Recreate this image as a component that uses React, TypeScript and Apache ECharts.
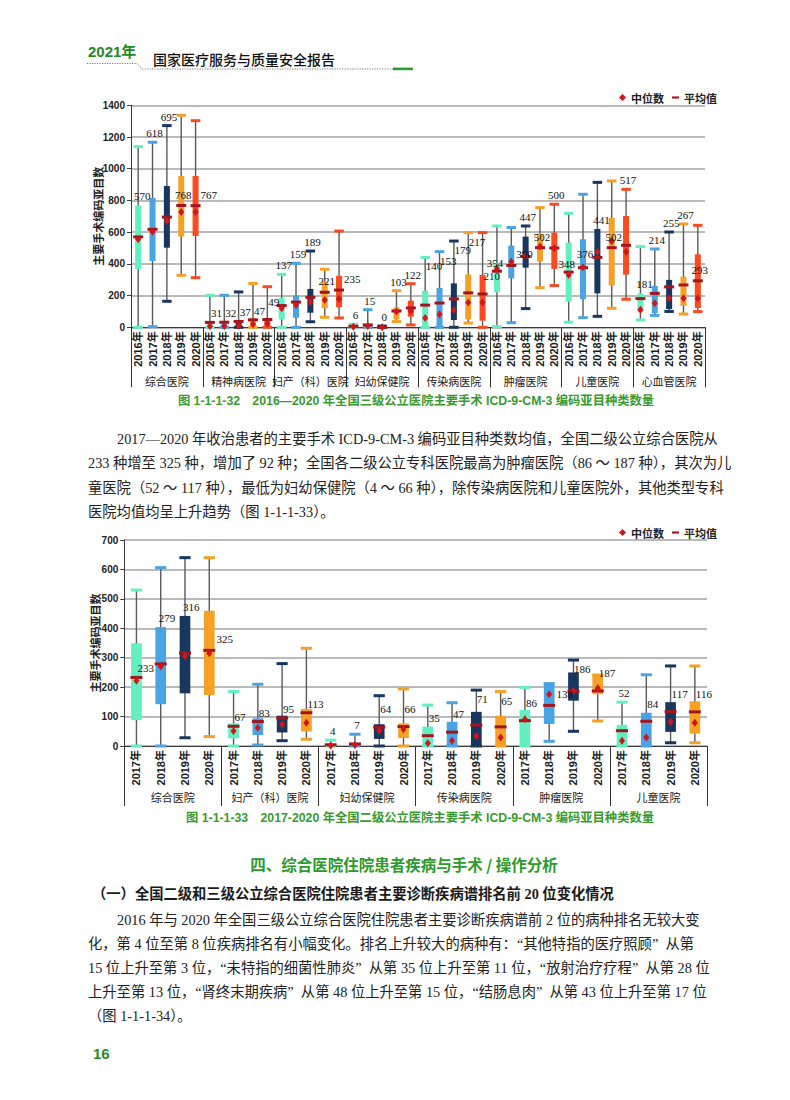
import React, { useEffect, useRef } from 'react';
import * as echarts from 'echarts';

// ---------- Top chart data (三级公立医院, 2016-2020) ----------
const topGroups = ['综合医院', '精神病医院', '妇产（科）医院', '妇幼保健院', '传染病医院', '肿瘤医院', '儿童医院', '心血管医院'];
const topYears = ['2016年', '2017年', '2018年', '2019年', '2020年'];
const topMin = [0, 4, 164, 328, 313, 0, 0, 0, 0, 0, 0, 0, 35, 63, 59, 0, 0, 0, 36, 15, 0, 0, 0, 27, 0, 4, 29, 118, 250, 263, 32, 61, 69, 120, 177, 46, 75, 100, 84, 99];
const topQ1 = [366, 418, 502, 572, 576, 0, 0, 0, 4, 6, 50, 60, 92, 120, 126, 0, 0, 0, 50, 67, 0, 0, 46, 50, 42, 221, 309, 376, 414, 368, 162, 177, 214, 263, 332, 95, 90, 115, 135, 122];
const topQ3 = [769, 816, 891, 954, 954, 40, 38, 42, 55, 58, 185, 200, 242, 288, 325, 10, 20, 5, 126, 168, 231, 248, 277, 334, 330, 404, 515, 572, 589, 597, 534, 555, 620, 690, 702, 214, 261, 299, 320, 460];
const topMax = [1139, 1167, 1272, 1337, 1303, 202, 202, 223, 277, 256, 334, 404, 481, 366, 607, 19, 111, 8, 231, 275, 441, 477, 544, 597, 597, 639, 629, 639, 755, 776, 719, 839, 914, 923, 870, 509, 494, 601, 652, 643];
const topMedian = [555, 603, 670, 727, 727, 6, 6, 10, 20, 22, 120, 140, 158, 172, 179, 3, 8, 0, 99, 103, 59, 82, 109, 156, 156, 370, 414, 452, 509, 499, 330, 378, 477, 542, 477, 110, 151, 183, 183, 183];
const topMean = [570, 618, 695, 768, 767, 31, 32, 37, 47, 49, 137, 159, 189, 221, 235, 6, 15, 0, 103, 122, 140, 153, 179, 217, 210, 354, 390, 447, 502, 500, 348, 376, 441, 502, 517, 181, 214, 255, 267, 293];
const topLabelPos = ['q', 'a', 'a', 'm', 'R', 'r', 'r', 'r', 'r', 'u', 'a', 'a', 'a', 'm', 'R', 'a', 'a', 'a', 'a', 'a', 'w', 'w', 'w', 'w', 'u', 'L', 'R', 'a', 'm', 'a', 'L', 'M', 'q', 'm', 'a', 'q', 'a', 'a', 'a', 'm'];

// ---------- Bottom chart data (二级公立医院, 2017-2020) ----------
const botGroups = ['综合医院', '妇产（科）医院', '妇幼保健院', '传染病医院', '肿瘤医院', '儿童医院'];
const botYears = ['2017年', '2018年', '2019年', '2020年'];
const botMin = [0, 0, 28, 32, 0, 3, 18, 23, 0, 0, 0, 0, 0, 0, 0, 0, 0, 16, 50, 85, 0, 0, 11, 11];
const botQ1 = [88, 142, 179, 173, 26, 37, 46, 49, 0, 0, 24, 27, 0, 0, 0, 0, 0, 75, 154, 176, 0, 0, 48, 42];
const botQ3 = [349, 404, 442, 460, 77, 94, 103, 126, 8, 10, 74, 77, 66, 82, 116, 103, 122, 208, 250, 238, 72, 113, 149, 152];
const botMax = [530, 606, 640, 640, 185, 210, 280, 332, 20, 40, 171, 194, 139, 147, 190, 185, 199, 212, 292, 241, 149, 242, 272, 272];
const botMedian = [222, 270, 306, 315, 51, 62, 74, 79, 2, 3, 52, 57, 9, 18, 34, 29, 91, 176, 187, 196, 18, 29, 82, 79];
const botMean = [233, 279, 316, 325, 67, 83, 95, 113, 4, 7, 64, 66, 35, 47, 71, 65, 86, 138, 186, 187, 52, 84, 117, 116];
const botLabelPos = ['r', 'q', 'q', 'R', 'r', 'r', 'r', 'r', 'a', 'a', 'u', 'u', 'u', 'u', 'w', 'w', 'u', 'R', 'w', 'u', 'a', 'q', 'u', 'u'];

// ---------- Page texts ----------
const headerYear = '2021年';
const headerTitle = '国家医疗服务与质量安全报告';
const caption1 = '图 1-1-1-32　2016—2020 年全国三级公立医院主要手术 ICD-9-CM-3 编码亚目种类数量';
const caption2 = '图 1-1-1-33　2017-2020 年全国二级公立医院主要手术 ICD-9-CM-3 编码亚目种类数量';
const para1 = [
  '2017—2020 年收治患者的主要手术 ICD-9-CM-3 编码亚目种类数均值，全国二级公立综合医院从',
  '233 种增至 325 种，增加了 92 种；全国各二级公立专科医院最高为肿瘤医院（86 ～ 187 种），其次为儿',
  '童医院（52 ～ 117 种），最低为妇幼保健院（4 ～ 66 种），除传染病医院和儿童医院外，其他类型专科',
  '医院均值均呈上升趋势（图 1-1-1-33）。',
];
const heading = '四、综合医院住院患者疾病与手术 / 操作分析';
const subheading = '（一）全国二级和三级公立综合医院住院患者主要诊断疾病谱排名前 20 位变化情况';
const para2 = [
  '2016 年与 2020 年全国三级公立综合医院住院患者主要诊断疾病谱前 2 位的病种排名无较大变',
  '化，第 4 位至第 8 位疾病排名有小幅变化。排名上升较大的病种有：“其他特指的医疗照顾”  从第',
  '15 位上升至第 3 位，“未特指的细菌性肺炎”  从第 35 位上升至第 11 位，“放射治疗疗程”  从第 28 位',
  '上升至第 13 位，“肾终末期疾病”  从第 48 位上升至第 15 位，“结肠息肉”  从第 43 位上升至第 17 位',
  '（图 1-1-1-34）。',
];
const pageNumber = '16';
const axisTitle = '主要手术编码亚目数';
const legendNames = ['中位数', '平均值'];

const CJK = '"Noto Sans CJK SC", sans-serif';
const SANS = '"Liberation Sans", "Noto Sans CJK SC", sans-serif';
const SERIF = '"Liberation Serif", "Noto Sans CJK SC", serif';

const topColors = ['#63efbf', '#4aa3e2', '#17375e', '#f6a126', '#fb4a1f'];
const botColors = ['#63efbf', '#4aa3e2', '#17375e', '#f6a126'];
const MEAN_COLOR = '#a3151c';
const MEDIAN_COLOR = '#d0161b';

function boxRenderer(colors: string[], boxRatio: number, capRatio: number) {
  return (params: any, api: any) => {
    const i = api.value(0);
    const pMin = api.coord([i, api.value(1)]);
    const pQ1 = api.coord([i, api.value(2)]);
    const pQ3 = api.coord([i, api.value(3)]);
    const pMax = api.coord([i, api.value(4)]);
    const band = api.size([1, 0])[0];
    const bw = band * boxRatio;
    const cw = band * capRatio;
    const cx = pMin[0];
    const color = colors[params.dataIndex % colors.length];
    return {
      type: 'group',
      children: [
        { type: 'line', shape: { x1: cx, y1: pMax[1], x2: cx, y2: pMin[1] }, style: { stroke: '#5a5a5a', lineWidth: 1.4 } },
        { type: 'rect', shape: { x: cx - bw / 2, y: pQ3[1], width: bw, height: Math.max(pQ1[1] - pQ3[1], 1.5) }, style: { fill: color } },
        { type: 'rect', shape: { x: cx - cw / 2, y: pMax[1] - 1.5, width: cw, height: 3 }, style: { fill: color } },
        { type: 'rect', shape: { x: cx - cw / 2, y: pMin[1] - 1.5, width: cw, height: 3 }, style: { fill: color } },
      ],
    };
  };
}

function labelRenderer(modes: string[], boxRatio: number) {
  return (params: any, api: any) => {
    const i = api.value(0);
    const mean = api.value(1);
    const pMean = api.coord([i, mean]);
    const pQ3 = api.coord([i, api.value(2)]);
    const pMax = api.coord([i, api.value(3)]);
    const band = api.size([1, 0])[0];
    const hb = (band * boxRatio) / 2;
    const cx = pMean[0];
    let x = cx;
    let y = pMean[1];
    let align = 'center';
    switch (modes[params.dataIndex]) {
      case 'a': x = cx + 2; y = pMax[1] - 9; break;
      case 'w': x = cx + 0.5; y = pMax[1] + 9; align = 'left'; break;
      case 'q': x = cx + hb + 1; y = pQ3[1] - 9; break;
      case 'm': x = cx + 2; y = pMean[1] - 11; break;
      case 'M': x = cx + 2; y = pMean[1] - 14; break;
      case 'L': x = cx - 2; y = pMean[1] - 8; break;
      case 'r': x = cx + 1; y = pMean[1] - 9; align = 'left'; break;
      case 'u': x = cx + 1; y = pMean[1] - 18; align = 'left'; break;
      case 'R': x = cx + hb + 2; y = pMean[1] - 11; align = 'left'; break;
    }
    return {
      type: 'text',
      x,
      y,
      style: { text: String(mean), fill: '#111', font: '11px "Liberation Serif", serif', align, verticalAlign: 'middle' },
    };
  };
}

function buildChart(cfg: any) {
  const { gi, xi, groups, years, min, q1, q3, max, median, mean, modes, colors, yMax, yInterval, nameGap, boxRatio, capRatio, dashW, groupMargin } = cfg;
  const cats: string[] = [];
  groups.forEach(() => years.forEach((y: string) => cats.push(y)));
  const xAxes = [
    {
      type: 'category', gridIndex: gi, position: 'bottom', data: cats,
      axisLine: { show: true, onZero: false, lineStyle: { color: '#3c3c3c', width: 1 } },
      axisTick: { show: false },
      axisLabel: { interval: 0, rotate: 90, margin: 4, fontSize: 11, fontWeight: 'bold', color: '#1a1a1a', fontFamily: SANS },
      splitLine: { show: false },
    },
    {
      type: 'category', gridIndex: gi, position: 'bottom', data: groups,
      axisLine: { show: false },
      axisTick: { show: true, interval: 0, length: 60, lineStyle: { color: '#333', width: 1 } },
      axisLabel: { interval: 0, margin: groupMargin, fontSize: 11, color: '#1a1a1a', fontFamily: CJK },
      splitLine: { show: false },
    },
  ];
  const yAxis = {
    type: 'value', gridIndex: gi, min: 0, max: yMax, interval: yInterval,
    name: axisTitle, nameLocation: 'middle', nameRotate: 90, nameGap, nameMoveOverlap: false,
    nameTextStyle: { fontSize: 11, fontWeight: 'bold', color: '#222', fontFamily: CJK },
    axisLine: { show: true, lineStyle: { color: '#3c3c3c', width: 1 } },
    axisTick: { show: true, length: 4, lineStyle: { color: '#3c3c3c' } },
    axisLabel: { margin: 6, fontSize: 10, fontWeight: 'bold', color: '#222', fontFamily: SANS, formatter: (v: number) => String(v) },
    splitLine: { show: true, lineStyle: { color: '#a3a3a3', width: 1.6 } },
  };
  const series = [
    {
      type: 'custom', xAxisIndex: xi, yAxisIndex: gi, clip: false, z: 2, silent: true,
      renderItem: boxRenderer(colors, boxRatio, capRatio),
      encode: { x: 0, y: [1, 2, 3, 4] },
      data: min.map((_: number, i: number) => [i, min[i], q1[i], q3[i], max[i]]),
    },
    {
      name: legendNames[1], type: 'scatter', xAxisIndex: xi, yAxisIndex: gi, z: 4, silent: true,
      symbol: 'rect', symbolSize: [dashW, 3], itemStyle: { color: MEAN_COLOR, opacity: 1 },
      data: mean.map((v: number, i: number) => [i, v]),
    },
    {
      name: legendNames[0], type: 'scatter', xAxisIndex: xi, yAxisIndex: gi, z: 5, silent: true,
      symbol: 'diamond', symbolSize: [6, 8], itemStyle: { color: MEDIAN_COLOR, opacity: 1 },
      data: median.map((v: number, i: number) => [i, v]),
    },
    {
      type: 'custom', xAxisIndex: xi, yAxisIndex: gi, clip: false, z: 6, silent: true,
      renderItem: labelRenderer(modes, boxRatio),
      encode: { x: 0, y: [1, 2, 3] },
      data: mean.map((v: number, i: number) => [i, v, q3[i], max[i]]),
    },
  ];
  return { xAxes, yAxis, series };
}

function legendAt(top: number) {
  return {
    top, left: 614, orient: 'horizontal', itemWidth: 7, itemHeight: 7, itemGap: 8, selectedMode: false,
    data: [
      { name: legendNames[0], icon: 'diamond' },
      { name: legendNames[1], icon: 'path://M0 0H10V3H0Z' },
    ],
    textStyle: { fontSize: 11, fontWeight: 'bold', color: '#222', fontFamily: CJK },
  };
}

function textEl(text: string, x: number, y: number, font: string, fill: string, align = 'left') {
  return { type: 'text', x, y, silent: true, style: { text, font, fill, align, verticalAlign: 'middle' } };
}

export default function App() {
  const ref = useRef<HTMLDivElement>(null);
  useEffect(() => {
    if (!ref.current) return;
    const chart = echarts.init(ref.current, null, { renderer: 'svg', width: 790, height: 1100 });
    const top = buildChart({
      gi: 0, xi: 0, groups: topGroups, years: topYears, min: topMin, q1: topQ1, q3: topQ3, max: topMax,
      median: topMedian, mean: topMean, modes: topLabelPos, colors: topColors, yMax: 1400, yInterval: 200,
      nameGap: 28, boxRatio: 0.42, capRatio: 0.66, dashW: 10, groupMargin: 48,
    });
    const bot = buildChart({
      gi: 1, xi: 2, groups: botGroups, years: botYears, min: botMin, q1: botQ1, q3: botQ3, max: botMax,
      median: botMedian, mean: botMean, modes: botLabelPos, colors: botColors, yMax: 700, yInterval: 100,
      nameGap: 24, boxRatio: 0.44, capRatio: 0.46, dashW: 12, groupMargin: 45,
    });
    const paraFont = '14.3px ' + SERIF;
    const graphic: any[] = [
      textEl(headerYear, 88, 51, 'bold 15px ' + SANS, '#1f8b24'),
      textEl(headerTitle, 153, 58.5, '500 14px ' + CJK, '#111'),
      { type: 'polyline', silent: true, shape: { points: [[87, 63.5], [137, 63.5], [142, 69], [393, 69]] }, style: { stroke: '#777', lineWidth: 1, lineDash: [1.2, 1.3], fill: null } },
      { type: 'rect', silent: true, shape: { x: 393, y: 67.6, width: 20, height: 2.6 }, style: { fill: '#2e9a34' } },
      textEl(caption1, 416, 401, 'bold 12.3px ' + SANS, '#3a9a2f', 'center'),
      ...para1.map((t, i) => textEl(t, i === 0 ? 117 : 88, 439 + i * 24.4, paraFont, '#222')),
      textEl(caption2, 420, 818, 'bold 12.3px ' + SANS, '#3a9a2f', 'center'),
      textEl(heading, 404, 864, 'bold 15.5px ' + CJK, '#2c9a2c', 'center'),
      textEl(subheading, 92, 894, 'bold 14.3px ' + SERIF, '#1a1a1a'),
      ...para2.map((t, i) => textEl(t, i === 0 ? 117 : 88, 920 + i * 24, paraFont, '#222')),
      textEl(pageNumber, 93, 1053, 'bold 15px ' + SANS, '#2a8a2a'),
    ];
    chart.setOption({
      animation: false,
      backgroundColor: '#ffffff',
      textStyle: { fontFamily: CJK },
      grid: [
        { left: 131, top: 105.3, width: 574, height: 222, containLabel: false },
        { left: 124.3, top: 540, width: 582.7, height: 206, containLabel: false },
      ],
      legend: [legendAt(87), legendAt(522)],
      xAxis: [...top.xAxes, ...bot.xAxes],
      yAxis: [top.yAxis, bot.yAxis],
      series: [...top.series, ...bot.series],
      graphic,
    });
    return () => chart.dispose();
  }, []);
  return <div ref={ref} style={{ position: 'absolute', left: 0, top: 0, width: 790, height: 1100, background: '#fff' }} />;
}
